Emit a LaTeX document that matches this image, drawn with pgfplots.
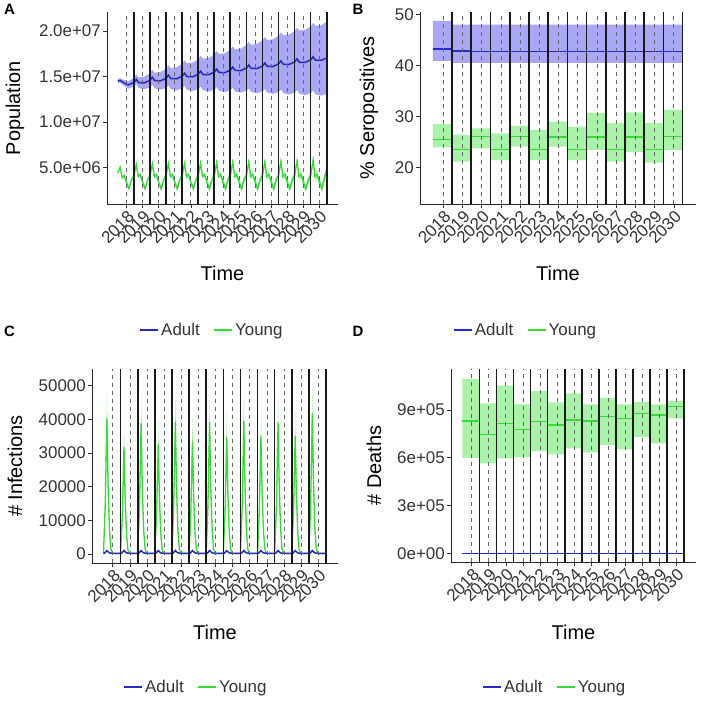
\documentclass[border=0pt]{standalone}
\usepackage{fontspec}
\setmainfont{Liberation Sans}
\usepackage{pgfplots}
\pgfplotsset{compat=1.18}
\usepackage{pgfplotstable}
\usepgfplotslibrary{fillbetween}

\definecolor{adultline}{RGB}{40,40,200}
\definecolor{adultfill}{RGB}{168,168,246}
\definecolor{youngline}{RGB}{55,218,55}
\definecolor{youngfill}{RGB}{170,242,170}

% Panel A: population (millions)
\pgfplotstableread{
t m lo hi
2017.45 14.48 14.28 14.68
2017.60 14.58 14.34 14.82
2017.75 14.38 14.09 14.67
2018.10 14.07 13.68 14.46
2018.45 14.35 13.86 14.84
2018.60 14.69 14.16 15.22
2018.75 14.32 13.74 14.90
2019.10 14.30 13.62 14.98
2019.45 14.58 13.80 15.36
2019.60 14.92 14.10 15.74
2019.75 14.55 13.68 15.42
2020.10 14.52 13.55 15.49
2020.45 14.80 13.73 15.87
2020.60 15.14 14.03 16.25
2020.75 14.77 13.61 15.93
2021.10 14.75 13.49 16.01
2021.45 15.03 13.67 16.39
2021.60 15.37 13.97 16.77
2021.75 15.00 13.55 16.45
2022.10 14.97 13.42 16.52
2022.45 15.25 13.60 16.90
2022.60 15.59 13.90 17.28
2022.75 15.22 13.48 16.96
2023.10 15.20 13.36 17.04
2023.45 15.48 13.54 17.42
2023.60 15.82 13.84 17.80
2023.75 15.45 13.42 17.48
2024.10 15.42 13.29 17.55
2024.45 15.70 13.47 17.93
2024.60 16.04 13.77 18.31
2024.75 15.67 13.35 17.99
2025.10 15.65 13.23 18.07
2025.45 15.93 13.41 18.45
2025.60 16.27 13.71 18.83
2025.75 15.90 13.29 18.51
2026.10 15.87 13.16 18.58
2026.45 16.15 13.34 18.96
2026.60 16.49 13.64 19.34
2026.75 16.12 13.22 19.02
2027.10 16.10 13.10 19.10
2027.45 16.38 13.28 19.48
2027.60 16.72 13.58 19.86
2027.75 16.35 13.16 19.54
2028.10 16.32 13.03 19.61
2028.45 16.60 13.21 19.99
2028.60 16.94 13.51 20.37
2028.75 16.57 13.09 20.05
2029.10 16.55 12.97 20.13
2029.45 16.83 13.15 20.51
2029.60 17.17 13.45 20.89
2029.75 16.80 13.03 20.57
2030.10 16.77 12.90 20.64
2030.45 17.05 13.08 21.02
}\tabAadult

\pgfplotstableread{
t m lo hi
2017.45 4.40 4.20 4.60
2017.60 5.00 4.80 5.20
2017.72 3.90 3.70 4.10
2017.85 4.10 3.90 4.30
2018.00 3.30 3.08 3.52
2018.15 2.65 2.43 2.87
2018.30 3.60 3.38 3.82
2018.45 4.10 3.88 4.32
2018.60 5.30 5.08 5.52
2018.72 4.00 3.78 4.22
2018.85 4.20 3.98 4.42
2019.00 3.35 3.11 3.59
2019.15 2.65 2.41 2.89
2019.30 3.60 3.36 3.84
2019.45 4.10 3.86 4.34
2019.60 5.35 5.11 5.59
2019.72 4.00 3.76 4.24
2019.85 4.20 3.96 4.44
2020.00 3.35 3.09 3.61
2020.15 2.65 2.39 2.91
2020.30 3.60 3.34 3.86
2020.45 4.10 3.84 4.36
2020.60 5.40 5.14 5.66
2020.72 4.00 3.74 4.26
2020.85 4.20 3.94 4.46
2021.00 3.35 3.07 3.63
2021.15 2.65 2.37 2.93
2021.30 3.60 3.32 3.88
2021.45 4.10 3.82 4.38
2021.60 5.40 5.12 5.68
2021.72 4.00 3.72 4.28
2021.85 4.20 3.92 4.48
2022.00 3.35 3.05 3.65
2022.15 2.65 2.35 2.95
2022.30 3.60 3.30 3.90
2022.45 4.10 3.80 4.40
2022.60 5.45 5.15 5.75
2022.72 4.00 3.70 4.30
2022.85 4.20 3.90 4.50
2023.00 3.35 3.03 3.67
2023.15 2.65 2.33 2.97
2023.30 3.60 3.28 3.92
2023.45 4.10 3.78 4.42
2023.60 5.50 5.18 5.82
2023.72 4.00 3.68 4.32
2023.85 4.20 3.88 4.52
2024.00 3.35 3.01 3.69
2024.15 2.65 2.31 2.99
2024.30 3.60 3.26 3.94
2024.45 4.10 3.76 4.44
2024.60 5.55 5.21 5.89
2024.72 4.00 3.66 4.34
2024.85 4.20 3.86 4.54
2025.00 3.35 2.99 3.71
2025.15 2.65 2.29 3.01
2025.30 3.60 3.24 3.96
2025.45 4.10 3.74 4.46
2025.60 5.60 5.24 5.96
2025.72 4.00 3.64 4.36
2025.85 4.20 3.84 4.56
2026.00 3.35 2.97 3.73
2026.15 2.65 2.27 3.03
2026.30 3.60 3.22 3.98
2026.45 4.10 3.72 4.48
2026.60 5.60 5.22 5.98
2026.72 4.00 3.62 4.38
2026.85 4.20 3.82 4.58
2027.00 3.35 2.95 3.75
2027.15 2.65 2.25 3.05
2027.30 3.60 3.20 4.00
2027.45 4.10 3.70 4.50
2027.60 5.65 5.25 6.05
2027.72 4.00 3.60 4.40
2027.85 4.20 3.80 4.60
2028.00 3.35 2.93 3.77
2028.15 2.65 2.23 3.07
2028.30 3.60 3.18 4.02
2028.45 4.10 3.68 4.52
2028.60 5.70 5.28 6.12
2028.72 4.00 3.58 4.42
2028.85 4.20 3.78 4.62
2029.00 3.35 2.91 3.79
2029.15 2.65 2.21 3.09
2029.30 3.60 3.16 4.04
2029.45 4.10 3.66 4.54
2029.60 5.80 5.36 6.24
2029.72 4.00 3.56 4.44
2029.85 4.20 3.76 4.64
2030.00 3.35 2.89 3.81
2030.15 2.70 2.24 3.16
2030.30 3.70 3.24 4.16
2030.45 4.80 4.34 5.26
}\tabAyoung

% Panel B: % seropositives (yearly steps)
\pgfplotstableread{
t am alo ahi ym ylo yhi
2017.45 43.25 40.9 48.7 25.5 24.0 28.5
2018.45 42.8 40.5 48.0 23.6 21.2 26.4
2019.45 42.7 40.5 48.0 26.1 23.8 27.7
2020.45 42.7 40.5 48.0 23.5 21.5 26.7
2021.45 42.7 40.5 48.0 26.1 24.1 28.2
2022.45 42.7 40.5 48.0 23.5 21.5 27.4
2023.45 42.7 40.5 48.0 26.0 24.1 29.0
2024.45 42.7 40.5 48.0 23.5 21.5 28.0
2025.45 42.7 40.5 48.0 26.0 23.5 30.7
2026.45 42.7 40.5 48.0 23.6 21.2 28.7
2027.45 42.7 40.5 48.0 26.0 23.1 30.8
2028.45 42.7 40.5 48.0 23.6 21.0 28.7
2029.45 42.7 40.5 48.0 26.1 23.5 31.3
2030.45 42.7 40.5 48.0 26.1 23.5 31.3
}\tabB

% Panel C: infections (young)
\pgfplotstableread{
t m lo hi
2017.45 100 50 200
2017.55 14100 11280 17200
2017.65 40300 32240 49170
2017.72 20150 16120 24580
2017.80 7250 5800 8850
2017.88 1610 1290 1970
2017.97 100 50 200
2018.45 100 50 200
2018.55 11130 8900 13580
2018.65 31800 25440 38800
2018.72 15900 12720 19400
2018.80 5720 4580 6980
2018.88 1270 1020 1550
2018.97 100 50 200
2019.45 100 50 200
2019.55 13580 10860 16570
2019.65 38800 31040 47340
2019.72 19400 15520 23670
2019.80 6980 5590 8520
2019.88 1550 1240 1890
2019.97 100 50 200
2020.45 100 50 200
2020.55 11480 9180 14010
2020.65 32800 26240 40020
2020.72 16400 13120 20010
2020.80 5900 4720 7200
2020.88 1310 1050 1600
2020.97 100 50 200
2021.45 100 50 200
2021.55 13760 11000 16780
2021.65 39300 31440 47950
2021.72 19650 15720 23970
2021.80 7070 5660 8630
2021.88 1570 1260 1920
2021.97 100 50 200
2022.45 100 50 200
2022.55 11730 9380 14300
2022.65 33500 26800 40870
2022.72 16750 13400 20440
2022.80 6030 4820 7360
2022.88 1340 1070 1630
2022.97 100 50 200
2023.45 100 50 200
2023.55 13690 10950 16700
2023.65 39100 31280 47700
2023.72 19550 15640 23850
2023.80 7040 5630 8590
2023.88 1560 1250 1910
2023.97 100 50 200
2024.45 100 50 200
2024.55 12180 9740 14860
2024.65 34800 27840 42460
2024.72 17400 13920 21230
2024.80 6260 5010 7640
2024.88 1390 1110 1700
2024.97 100 50 200
2025.45 100 50 200
2025.55 13830 11060 16870
2025.65 39500 31600 48190
2025.72 19750 15800 24100
2025.80 7110 5690 8670
2025.88 1580 1260 1930
2025.97 100 50 200
2026.45 100 50 200
2026.55 12290 9830 14990
2026.65 35100 28080 42820
2026.72 17550 14040 21410
2026.80 6320 5060 7710
2026.88 1400 1120 1710
2026.97 100 50 200
2027.45 100 50 200
2027.55 13690 10950 16700
2027.65 39100 31280 47700
2027.72 19550 15640 23850
2027.80 7040 5630 8590
2027.88 1560 1250 1910
2027.97 100 50 200
2028.45 100 50 200
2028.55 12290 9830 14990
2028.65 35100 28080 42820
2028.72 17550 14040 21410
2028.80 6320 5060 7710
2028.88 1400 1120 1710
2028.97 100 50 200
2029.45 100 50 200
2029.55 14600 11680 17810
2029.65 41700 33360 50870
2029.72 20850 16680 25440
2029.80 7510 6010 9160
2029.88 1670 1340 2040
2029.97 100 50 200
2030.45 100 50 200
}\tabCyoung

% Panel D: deaths (young, yearly steps)
\pgfplotstableread{
t m lo hi
2017.45 831000 600000 1095000
2018.45 747000 565000 942000
2019.45 816000 596000 1053000
2020.45 780000 606000 936000
2021.45 826000 642000 1020000
2022.45 806000 621000 948000
2023.45 837000 659000 1005000
2024.45 831000 634000 936000
2025.45 858000 680000 977000
2026.45 848000 655000 936000
2027.45 879000 732000 952000
2028.45 869000 690000 936000
2029.45 921000 848000 957000
2030.45 921000 848000 957000
}\tabD

\pgfplotsset{
  panel/.style={
    scale only axis,
    axis lines*=left,
    axis on top,
    scaled y ticks=false,
    scaled x ticks=false,
    xmin=2016.78, xmax=2031.15,
    xtick={2018,2019,2020,2021,2022,2023,2024,2025,2026,2027,2028,2029,2030},
    xticklabels={2018,2019,2020,2021,2022,2023,2024,2025,2026,2027,2028,2029,2030},
    xticklabel style={rotate=45, anchor=north east, inner sep=1bp,
      font=\fontsize{17}{17}\selectfont, text=black!80},
    yticklabel style={font=\fontsize{17}{17}\selectfont, text=black!80, inner sep=2bp},
    tick align=outside,
    major tick length=4bp,
    tick style={black!80, line width=0.8bp},
    axis line style={black!85, line width=1bp},
    xmajorgrids=true,
    ymajorgrids=false,
    major grid style={black!60, line width=0.9bp, dash pattern=on 4bp off 4bp},
    extra x ticks={2018.45,2019.45,2020.45,2021.45,2022.45,2023.45,2024.45,2025.45,2026.45,2027.45,2028.45,2029.45,2030.45},
    extra x tick labels={},
    extra x tick style={grid=major, major grid style={black!90, line width=1.6bp, solid}, major tick length=0pt},
    label style={font=\fontsize{20}{20}\selectfont, text=black},
    legend style={draw=none, fill=none, legend columns=2, anchor=center,
      font=\fontsize{17}{17}\selectfont, text=black!80,
      /tikz/every even column/.append style={column sep=12bp}},
    legend image code/.code={\draw[#1] (0bp,0bp) -- (18bp,0bp);},
    legend cell align=left,
  },
  aline/.style={adultline, line width=1.5bp},
  yline/.style={youngline, line width=1.3bp},
}

\begin{document}
\begin{tikzpicture}

% ---------------- A ----------------
\begin{axis}[panel,
  at={(107bp,-204bp)}, anchor=south west, width=231bp, height=192bp,
  ymin=0.97, ymax=22.1,
  ytick={5,10,15,20}, yticklabels={5.0e+06,1.0e+07,1.5e+07,2.0e+07},
  xlabel={Time}, ylabel={Population},
  xlabel style={at={(axis description cs:0.5,-0.359)}, anchor=center},
  ylabel style={at={(axis description cs:-0.398,0.5)}, anchor=center},
  legend style={at={(axis description cs:0.455,-0.656)}},
]
\addplot[name path=Aahi, draw=none, forget plot] table[x=t,y=hi]{\tabAadult};
\addplot[name path=Aalo, draw=none, forget plot] table[x=t,y=lo]{\tabAadult};
\addplot[adultfill, forget plot] fill between[of=Aahi and Aalo];
\addplot[name path=Ayhi, draw=none, forget plot] table[x=t,y=hi]{\tabAyoung};
\addplot[name path=Aylo, draw=none, forget plot] table[x=t,y=lo]{\tabAyoung};
\addplot[youngfill, forget plot] fill between[of=Ayhi and Aylo];
\addplot[yline, forget plot] table[x=t,y=m]{\tabAyoung};
\addplot[aline, forget plot] table[x=t,y=m]{\tabAadult};
\addlegendimage{aline}\addlegendentry{Adult}
\addlegendimage{yline}\addlegendentry{Young}
\end{axis}

% ---------------- B ----------------
\begin{axis}[panel,
  at={(420bp,-204bp)}, anchor=south west, width=276bp, height=192bp,
  ymin=12.9, ymax=50.45,
  ytick={20,30,40,50}, yticklabels={20,30,40,50},
  xlabel={Time}, ylabel={\% Seropositives},
  xlabel style={at={(axis description cs:0.5,-0.359)}, anchor=center},
  ylabel style={at={(axis description cs:-0.185,0.5)}, anchor=center},
  legend style={at={(axis description cs:0.383,-0.656)}},
]
\addplot[name path=Bahi, draw=none, const plot, forget plot] table[x=t,y=ahi]{\tabB};
\addplot[name path=Balo, draw=none, const plot, forget plot] table[x=t,y=alo]{\tabB};
\addplot[adultfill, forget plot] fill between[of=Bahi and Balo];
\addplot[name path=Byhi, draw=none, const plot, forget plot] table[x=t,y=yhi]{\tabB};
\addplot[name path=Bylo, draw=none, const plot, forget plot] table[x=t,y=ylo]{\tabB};
\addplot[youngfill, forget plot] fill between[of=Byhi and Bylo];
\addplot[yline, const plot, forget plot] table[x=t,y=ym]{\tabB};
\addplot[aline, const plot, forget plot] table[x=t,y=am]{\tabB};
\addlegendimage{aline}\addlegendentry{Adult}
\addlegendimage{yline}\addlegendentry{Young}
\end{axis}

% ---------------- C ----------------
\begin{axis}[panel,
  at={(92bp,-563bp)}, anchor=south west, width=246bp, height=194bp,
  ymin=-2700, ymax=55000,
  ytick={0,10000,20000,30000,40000,50000},
  yticklabels={0,10000,20000,30000,40000,50000},
  xlabel={Time}, ylabel={\# Infections},
  xlabel style={at={(axis description cs:0.5,-0.356)}, anchor=center},
  ylabel style={at={(axis description cs:-0.313,0.5)}, anchor=center},
  legend style={at={(axis description cs:0.423,-0.639)}},
]
\addplot[name path=Cyhi, draw=none, forget plot] table[x=t,y=hi]{\tabCyoung};
\addplot[name path=Cylo, draw=none, forget plot] table[x=t,y=lo]{\tabCyoung};
\addplot[youngfill, forget plot] fill between[of=Cyhi and Cylo];
\addplot[yline, forget plot] table[x=t,y=m]{\tabCyoung};
\addplot[aline, forget plot] coordinates {
(2017.45,150)
(2017.50,150) (2017.65,1000) (2017.78,350) (2017.95,150)
(2018.50,150) (2018.65,1000) (2018.78,350) (2018.95,150)
(2019.50,150) (2019.65,1000) (2019.78,350) (2019.95,150)
(2020.50,150) (2020.65,1000) (2020.78,350) (2020.95,150)
(2021.50,150) (2021.65,1000) (2021.78,350) (2021.95,150)
(2022.50,150) (2022.65,1000) (2022.78,350) (2022.95,150)
(2023.50,150) (2023.65,1000) (2023.78,350) (2023.95,150)
(2024.50,150) (2024.65,1000) (2024.78,350) (2024.95,150)
(2025.50,150) (2025.65,1000) (2025.78,350) (2025.95,150)
(2026.50,150) (2026.65,1000) (2026.78,350) (2026.95,150)
(2027.50,150) (2027.65,1000) (2027.78,350) (2027.95,150)
(2028.50,150) (2028.65,1000) (2028.78,350) (2028.95,150)
(2029.50,150) (2029.65,1000) (2029.78,350) (2029.95,150)
(2030.45,150)};
\addlegendimage{aline}\addlegendentry{Adult}
\addlegendimage{yline}\addlegendentry{Young}
\end{axis}

% ---------------- D ----------------
\begin{axis}[panel,
  at={(451bp,-562bp)}, anchor=south west, width=245bp, height=193bp,
  ymin=-54700, ymax=1158000,
  ytick={0,300000,600000,900000},
  yticklabels={0e+00,3e+05,6e+05,9e+05},
  xlabel={Time}, ylabel={\# Deaths},
  xlabel style={at={(axis description cs:0.5,-0.363)}, anchor=center},
  ylabel style={at={(axis description cs:-0.314,0.5)}, anchor=center},
  legend style={at={(axis description cs:0.424,-0.648)}},
]
\addplot[name path=Dyhi, draw=none, const plot, forget plot] table[x=t,y=hi]{\tabD};
\addplot[name path=Dylo, draw=none, const plot, forget plot] table[x=t,y=lo]{\tabD};
\addplot[youngfill, forget plot] fill between[of=Dyhi and Dylo];
\addplot[yline, const plot, forget plot] table[x=t,y=m]{\tabD};
\addplot[aline, forget plot] coordinates {(2017.45,0) (2030.45,0)};
\addlegendimage{aline}\addlegendentry{Adult}
\addlegendimage{yline}\addlegendentry{Young}
\end{axis}

% panel letters
\node[font=\bfseries\fontsize{15}{15}\selectfont] at (9.5bp,-9.5bp) {A};
\node[font=\bfseries\fontsize{15}{15}\selectfont] at (358bp,-9.5bp) {B};
\node[font=\bfseries\fontsize{15}{15}\selectfont] at (9.5bp,-331bp) {C};
\node[font=\bfseries\fontsize{15}{15}\selectfont] at (358bp,-331bp) {D};

\pgfresetboundingbox
\path[use as bounding box] (0bp,0bp) rectangle (708bp,-708bp);
\end{tikzpicture}
\end{document}
